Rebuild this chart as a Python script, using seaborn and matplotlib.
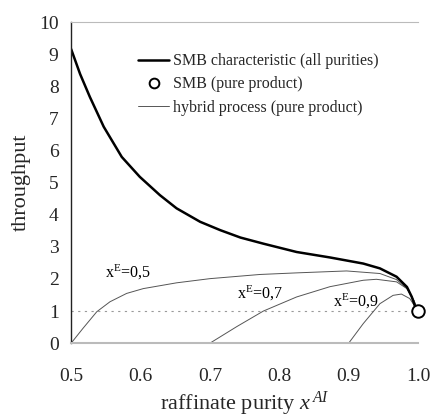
import matplotlib
matplotlib.use("Agg")
import matplotlib.pyplot as plt
import seaborn as sns
from matplotlib.lines import Line2D

sns.set_theme(style="white")
plt.rcParams['font.family'] = ['Liberation Serif', 'DejaVu Serif']
plt.rcParams['mathtext.fontset'] = 'custom'
plt.rcParams['mathtext.rm'] = 'Liberation Serif'
plt.rcParams['mathtext.it'] = 'Liberation Serif:italic'

# SMB characteristic (all purities)
smb_x = [0.5, 0.513, 0.527, 0.547, 0.573, 0.599, 0.628, 0.652, 0.686, 0.715, 0.744,
         0.777, 0.825, 0.873, 0.921, 0.945, 0.969, 0.984, 0.991, 0.996, 1.0]
smb_y = [9.16, 8.38, 7.67, 6.74, 5.80, 5.18, 4.61, 4.20, 3.78, 3.52, 3.29,
         3.10, 2.84, 2.67, 2.48, 2.33, 2.07, 1.75, 1.44, 1.13, 1.0]

# hybrid process curves (pure product)
h05_x = [0.5, 0.517, 0.537, 0.556, 0.580, 0.604, 0.652, 0.700, 0.772, 0.825, 0.897, 0.945, 0.969, 0.984, 0.994, 1.0]
h05_y = [0.0, 0.46, 0.98, 1.29, 1.55, 1.70, 1.88, 2.01, 2.14, 2.19, 2.25, 2.17, 1.98, 1.70, 1.33, 1.0]
h07_x = [0.7, 0.739, 0.777, 0.825, 0.873, 0.921, 0.940, 0.969, 0.984, 0.994, 1.0]
h07_y = [0.0, 0.52, 1.00, 1.44, 1.76, 1.96, 1.99, 1.91, 1.70, 1.33, 1.0]
h09_x = [0.9, 0.921, 0.945, 0.964, 0.976, 0.988, 0.996, 1.0]
h09_y = [0.0, 0.61, 1.23, 1.49, 1.53, 1.39, 1.13, 1.0]

pure_x = [1.0]
pure_y = [1.0]

labels = ["x$^{\\rm E}$=0,5", "x$^{\\rm E}$=0,7", "x$^{\\rm E}$=0,9"]
label_pos_x = [0.549, 0.739, 0.878]
label_pos_y = [2.05, 1.39, 1.15]

fig = plt.figure(figsize=(4.31, 4.17), dpi=100)
ax = fig.add_axes([0.165, 0.177, 0.805, 0.770])

ax.axhline(1.0, color="#999999", lw=0.8, ls=(0, (2, 4)), zorder=1)

for hx, hy in [(h05_x, h05_y), (h07_x, h07_y), (h09_x, h09_y)]:
    sns.lineplot(x=hx, y=hy, ax=ax, color="#555555", lw=0.7, sort=False, estimator=None)

sns.lineplot(x=smb_x, y=smb_y, ax=ax, color="black", lw=1.8, sort=False, estimator=None)
ax.plot(pure_x, pure_y, marker="o", ms=9, mfc="white", mec="black", mew=1.4, ls="none", zorder=5, clip_on=False)

for t, tx, ty in zip(labels, label_pos_x, label_pos_y):
    ax.text(tx, ty, t, fontsize=11.5, color="black")

ax.set_xlim(0.5, 1.0)
ax.set_ylim(0, 10)
ax.set_xticks([0.5, 0.6, 0.7, 0.8, 0.9, 1.0])
ax.set_xticklabels(["0.5", "0.6", "0.7", "0.8", "0.9", "1.0"])
ax.set_yticks(range(0, 11))
ax.tick_params(axis="x", direction="in", length=5, color="#aaaaaa", labelsize=14, pad=18)
ax.tick_params(axis="y", direction="in", length=3, color="#aaaaaa", labelsize=14, pad=9)
ax.set_xlabel("raffinate purity $x^{\\,AI}$", fontsize=16, labelpad=3)
ax.set_ylabel("throughput", fontsize=16, labelpad=6)

ax.spines["left"].set_color("#222222")
ax.spines["left"].set_linewidth(1.0)
ax.spines["bottom"].set_color("#bbbbbb")
ax.spines["bottom"].set_linewidth(1.5)
ax.spines["top"].set_color("#bbbbbb")
ax.spines["top"].set_linewidth(0.8)
ax.spines["right"].set_visible(False)

handles = [
    Line2D([], [], color="black", lw=1.8),
    Line2D([], [], color="black", marker="o", ms=7, mfc="white", mew=1.4, ls="none"),
    Line2D([], [], color="#555555", lw=0.7),
]
ax.legend(handles, ["SMB characteristic (all purities)", "SMB (pure product)", "hybrid process (pure product)"],
          loc="upper left", bbox_to_anchor=(0.15, 0.948), frameon=False, fontsize=11.5,
          handlelength=2.0, handletextpad=0.2, labelspacing=0.45)

fig.savefig("out.png", dpi=100)
